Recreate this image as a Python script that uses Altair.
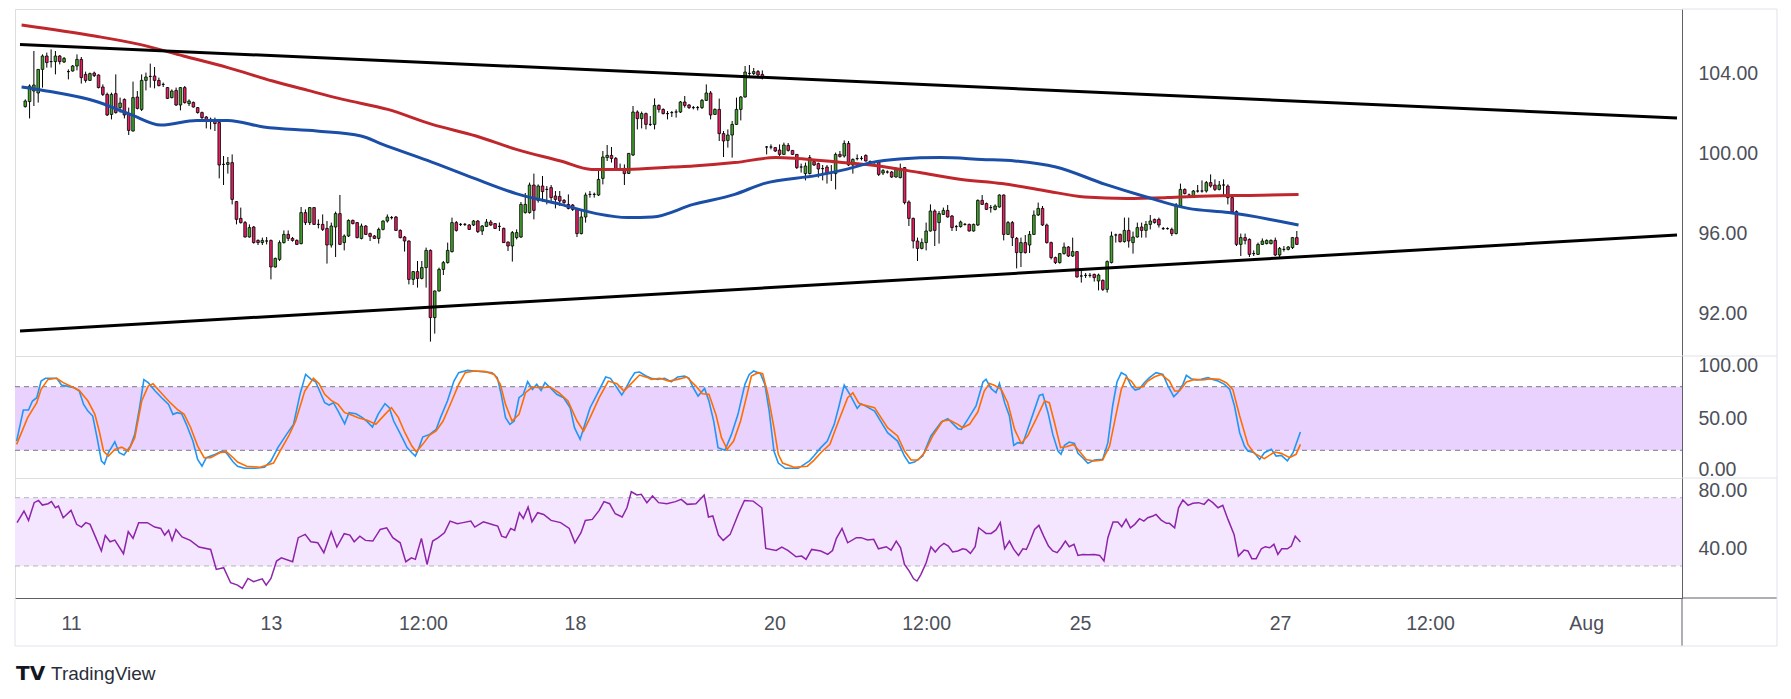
import altair as alt
import pandas as pd

# ---------------- data ----------------
CANDLE_OPEN = [
102.32,102.57,103.1,103.0,104.18,104.85,104.57,104.57,104.85,104.55,
104.07,104.1,104.35,104.68,103.93,103.63,104.0,103.9,103.3,102.93,
101.93,102.97,102.27,102.68,101.97,101.1,102.8,102.18,103.63,103.83,
103.85,103.63,103.43,103.27,102.77,103.13,102.4,103.27,102.47,102.53,
102.27,102.02,101.8,101.68,101.68,101.52,99.43,99.43,99.52,97.57,
96.73,96.52,95.8,96.3,95.63,95.52,95.6,95.63,94.3,94.68,
95.52,95.93,95.73,95.63,95.47,97.02,96.52,97.27,96.43,96.43,
96.23,95.4,96.3,96.97,95.52,95.85,96.63,96.52,95.73,96.35,
95.97,95.85,95.73,96.18,96.6,96.77,96.8,96.13,95.8,95.6,
93.68,94.07,93.73,94.27,95.13,91.77,93.1,94.18,94.52,95.07,
96.52,96.43,96.43,96.4,96.4,96.6,96.1,96.33,96.55,96.47,
96.33,96.23,95.55,95.35,95.77,95.8,97.02,97.02,98.4,97.63,
98.35,98.18,98.27,97.85,97.83,97.63,97.43,97.4,97.18,95.97,
96.8,97.93,97.93,97.9,98.73,99.77,99.88,99.73,99.2,99.23,
98.98,99.9,102.05,101.72,101.97,101.43,101.43,102.38,102.18,101.97,
102.02,102.05,102.05,102.55,102.4,102.27,102.27,102.27,102.63,103.0,
101.93,102.18,100.97,100.63,100.9,101.43,102.18,102.8,103.98,103.97,
104.07,103.93,100.3,100.3,100.27,100.15,99.93,100.38,100.13,99.93,
99.3,98.97,98.97,99.57,99.47,99.22,99.3,99.02,98.97,99.93,
99.85,100.48,99.4,99.72,99.73,99.88,99.57,99.52,99.55,
99.0,99.05,99.05,98.8,98.77,99.27,97.55,96.73,95.6,95.23,
95.52,96.1,97.1,96.52,96.93,97.13,96.85,96.32,96.32,96.43,
96.43,96.1,96.4,97.63,97.47,97.27,97.18,97.3,97.9,95.93,
96.52,95.73,95.02,95.52,95.4,95.93,96.9,97.23,96.4,95.52,
94.77,94.52,94.97,95.3,94.85,95.07,93.85,93.88,93.88,93.93,
93.6,93.63,93.18,94.52,95.9,95.93,95.57,96.13,95.52,95.8,
96.3,96.13,96.43,96.68,96.68,96.22,96.22,96.18,95.97,97.35,
98.18,97.9,97.85,98.1,98.1,98.1,98.52,98.4,98.18,98.4,
98.35,97.77,97.07,95.43,95.77,95.68,94.97,94.93,95.43,95.47,
95.47,95.63,94.9,95.18,95.18,95.27,95.77]
CANDLE_HIGH = [
102.68,103.43,105.1,104.2,104.93,105.02,105.18,105.1,104.9,104.8,
104.18,104.4,104.93,104.8,104.07,104.02,104.07,103.93,103.43,103.02,
103.02,103.93,102.77,102.73,102.27,103.57,103.1,103.93,104.02,104.47,
104.3,103.77,103.52,103.3,103.18,103.27,103.3,103.35,102.68,102.57,
102.3,102.07,101.85,101.77,101.77,101.6,99.85,99.8,99.93,97.6,
97.27,96.6,96.43,96.35,95.68,95.77,95.8,95.67,94.77,95.63,
96.13,96.13,95.8,95.68,97.3,97.18,97.3,97.3,96.68,96.93,
96.6,96.52,97.07,97.9,95.93,96.68,96.67,96.55,96.47,96.4,
96.02,95.9,96.27,96.63,96.93,96.85,96.85,96.18,95.85,95.63,
94.1,94.6,94.6,95.27,95.18,93.13,94.27,94.6,95.52,96.77,
96.6,96.5,96.5,96.45,96.65,96.65,96.4,96.7,96.65,96.5,
96.52,96.27,95.57,96.1,96.18,97.55,98.0,98.52,98.97,98.43,
98.85,98.35,98.4,98.1,98.1,97.7,97.93,97.45,97.22,97.18,
98.02,98.1,98.02,99.1,100.1,100.4,100.3,99.8,99.47,99.43,
100.0,102.35,102.13,102.07,102.02,101.85,102.73,102.43,102.23,102.1,
102.1,102.18,102.6,102.85,102.45,102.35,102.35,102.7,103.43,103.1,
102.23,102.72,101.1,101.18,101.6,102.77,102.85,104.35,104.4,104.25,
104.15,104.13,100.35,100.43,100.3,100.43,100.52,100.5,100.15,99.95,
99.47,99.52,99.9,99.68,99.52,99.4,99.4,99.4,100.02,100.1,
100.63,100.6,99.73,99.93,99.85,99.93,99.63,99.58,99.6,
99.2,99.13,99.1,99.27,99.47,99.3,97.63,96.77,95.77,95.73,
96.52,97.43,97.18,97.1,97.27,97.4,96.9,96.4,96.62,96.5,
96.47,96.47,97.68,97.9,97.52,97.4,97.43,97.93,97.93,96.6,
96.6,95.8,95.77,95.9,96.1,97.13,97.52,97.35,96.47,95.57,
94.82,95.0,95.52,95.35,95.77,95.1,94.1,94.0,94.0,93.97,
93.97,93.68,94.63,96.07,95.97,95.97,96.77,96.77,96.07,96.52,
96.52,96.6,96.9,96.72,96.77,96.3,96.28,96.27,97.5,98.47,
98.23,97.97,98.15,98.4,98.63,98.6,98.93,98.68,98.6,98.68,
98.43,97.85,97.13,95.97,95.97,95.73,95.13,95.52,95.73,95.68,
95.68,95.77,95.3,95.35,95.35,95.8,96.1]
CANDLE_LOW = [
102.27,101.73,102.35,102.52,103.27,104.27,104.27,103.93,104.43,104.5,
103.68,104.07,104.13,103.47,103.52,103.6,103.8,103.23,102.85,101.85,
101.68,101.97,102.02,101.73,100.9,101.07,102.18,102.1,103.13,103.27,
103.23,103.33,103.3,102.7,102.73,102.35,102.13,102.47,102.35,102.27,
101.97,101.6,101.23,101.18,101.1,98.73,98.4,98.97,97.43,96.43,
96.47,95.77,95.77,95.47,95.4,95.4,95.43,93.68,94.27,94.6,
95.47,95.6,95.57,95.4,95.43,96.4,96.4,96.4,96.23,96.1,
94.47,95.27,94.8,95.4,95.13,95.8,96.43,95.73,95.68,95.9,
95.6,95.7,95.47,96.13,96.52,96.68,96.1,95.73,95.07,93.43,
93.4,93.27,93.68,93.27,90.57,90.97,93.07,93.9,94.47,95.02,
96.07,96.35,96.35,96.15,96.35,96.0,95.9,96.3,96.35,96.2,
96.1,95.5,95.1,94.57,95.68,95.75,96.97,96.97,96.68,97.52,
97.57,97.43,97.6,97.23,97.35,97.45,97.18,97.1,95.8,95.93,
96.52,97.77,97.77,97.85,98.43,99.6,99.52,99.1,99.1,98.4,
98.95,99.85,101.18,101.23,101.18,101.35,101.18,102.02,101.93,101.68,
101.8,101.77,102.0,102.27,102.2,102.18,102.13,102.2,102.6,101.68,
101.9,100.6,99.8,100.27,99.77,101.4,101.63,102.77,103.77,103.9,
103.85,103.68,99.93,100.18,100.05,99.85,99.9,100.07,99.9,99.2,
99.02,98.63,98.93,99.35,98.77,98.63,98.47,98.6,98.18,99.77,
99.77,99.35,98.97,99.63,99.63,99.57,99.5,99.47,98.85,
98.9,98.97,98.75,98.77,98.73,97.43,96.35,95.23,94.6,95.18,
95.13,96.07,95.35,95.47,96.9,96.77,96.1,96.1,96.27,96.37,
96.07,96.07,96.35,97.4,97.15,97.02,97.13,97.27,95.63,95.9,
95.35,94.23,94.3,94.97,95.0,95.9,96.85,96.35,95.47,94.68,
94.45,94.47,94.92,94.8,94.8,93.77,93.52,93.75,93.77,93.57,
93.13,93.1,93.02,94.48,95.52,95.52,95.52,95.27,94.97,95.77,
95.77,95.77,96.18,96.47,96.27,96.15,96.17,95.85,95.93,97.3,
97.93,97.83,97.8,98.02,98.02,98.02,98.27,98.1,98.13,97.85,
97.43,97.02,95.35,94.85,95.43,94.8,94.85,94.9,95.4,95.43,
95.43,94.85,94.8,95.07,95.13,95.2,95.4]
CANDLE_CLOSE = [
102.6,103.35,103.4,104.18,104.85,104.52,104.57,104.85,104.57,104.73,
104.07,104.35,104.68,103.77,103.63,103.97,103.87,103.27,102.93,101.9,
102.93,102.02,102.5,101.9,101.13,102.77,102.23,103.63,103.8,103.83,
103.63,103.37,103.43,102.73,103.1,102.4,103.27,102.52,102.6,102.3,
102.02,101.77,101.6,101.68,101.47,99.4,99.43,99.52,97.68,96.68,
96.52,95.8,96.27,95.52,95.52,95.63,95.6,94.3,94.73,95.52,
95.93,95.73,95.63,95.43,97.02,96.52,97.27,96.43,96.43,96.18,
95.4,96.35,96.97,95.43,95.85,96.63,96.47,95.77,96.35,95.93,
95.83,95.73,96.18,96.6,96.8,96.77,96.13,95.77,95.6,93.68,
94.07,93.73,94.27,95.13,91.77,93.1,94.18,94.52,95.13,96.52,
96.13,96.43,96.43,96.18,96.6,96.07,96.35,96.55,96.4,96.23,
96.33,95.52,95.35,96.02,96.02,97.43,97.43,98.4,97.13,98.35,
98.07,98.18,97.77,97.68,97.6,97.52,97.23,97.18,95.97,96.8,
97.9,97.93,97.93,98.68,99.8,99.88,99.73,99.15,99.2,98.97,
99.98,102.05,101.72,101.97,101.43,101.43,102.38,102.18,101.97,101.97,
102.02,102.05,102.55,102.38,102.27,102.27,102.27,102.63,103.0,101.9,
102.18,100.97,100.6,100.9,101.43,102.18,102.8,104.05,103.98,104.07,
103.9,103.77,100.3,100.3,100.1,99.93,100.4,100.13,99.93,99.27,
99.3,99.35,99.77,99.4,99.2,99.22,98.97,99.02,99.93,99.83,
100.48,99.4,99.68,99.72,99.73,99.6,99.57,99.52,98.93,
99.12,99.05,98.8,99.23,99.23,97.52,96.73,95.6,95.23,95.52,
96.1,97.1,96.13,96.97,97.13,96.8,96.27,96.32,96.55,96.43,
96.1,96.43,97.63,97.43,97.18,97.27,97.35,97.9,95.93,96.52,
95.77,95.02,95.52,95.02,95.93,96.9,97.23,96.4,95.52,94.77,
94.52,94.97,95.3,94.85,95.07,93.8,93.85,93.88,93.88,93.77,
93.9,93.18,94.57,95.85,95.9,95.57,96.13,95.6,95.8,96.27,
96.13,96.43,96.6,96.52,96.4,96.22,96.22,95.97,97.4,98.18,
97.97,97.9,98.1,98.1,98.1,98.52,98.35,98.18,98.4,98.4,
97.77,97.07,95.43,95.77,95.63,94.93,94.97,95.43,95.6,95.63,
95.63,94.9,95.23,95.18,95.3,95.77,95.43]

MA_RED_BAR = [-0.85,16.1,26.5,36.7,47.0,57.4,65.6,73.7,84.1,94.4,104.6,113.9,124.2,131.4,139.7,
              150.0,155.0,164.6,174.1,178.9,188.5,198.0,207.5,217.2,226.6,236.3,245.8,255.5,264.9,274.6,284.1,295.4]
MA_RED_VAL = [106.4,105.85,105.43,104.85,104.27,103.6,103.13,102.68,102.18,101.43,100.85,100.18,99.6,99.18,99.18,
              99.3,99.35,99.52,99.77,99.73,99.55,99.35,99.02,98.68,98.47,98.13,97.8,97.73,97.77,97.85,97.88,97.93]
MA_BLUE_BAR = [-0.85,5.8,16.1,24.4,31.5,39.8,47.0,55.3,67.6,77.9,82.9,93.3,103.7,113.9,124.2,132.5,139.7,145.5,
               155.0,164.6,171.3,183.7,190.4,196.2,202.8,212.3,221.9,229.6,239.1,250.6,260.1,269.8,279.2,288.8,295.4]
MA_BLUE_VAL = [103.3,103.07,102.6,101.93,101.4,101.63,101.63,101.3,101.1,100.85,100.43,99.63,98.77,97.97,97.43,96.97,96.77,96.8,
               97.43,97.93,98.47,98.88,99.18,99.52,99.7,99.77,99.68,99.6,99.3,98.43,97.8,97.23,97.02,96.68,96.4]

TREND_UPPER_BAR = [-1.22, 383.2]
TREND_UPPER_VAL = [105.43, 101.75]
TREND_LOWER_BAR = [-1.22, 383.2]
TREND_LOWER_VAL = [91.1, 95.9]

STOCH_K_BAR = [-0.85,0.7,1.9,2.8,3.8,4.8,5.8,8.4,9.5,11.0,12.5,13.6,14.6,15.6,16.7,17.7,18.7,19.4,20.3,21.8,
22.8,23.9,25.4,26.4,27.5,28.5,29.5,31.1,32.6,34.2,35.2,36.2,37.2,38.3,39.8,40.9,41.9,42.9,45.0,46.5,
47.5,49.1,50.1,51.7,54.2,56.3,57.8,59.4,61.4,63.0,64.5,65.8,67.1,68.1,69.2,70.2,71.2,72.2,73.3,74.8,
75.8,77.4,78.9,80.0,81.2,82.5,84.1,85.1,86.1,87.7,89.2,90.3,91.1,91.8,92.8,94.4,95.9,96.9,98.5,100.0,
101.1,103.1,104.7,106.7,108.8,110.0,110.9,111.9,112.9,113.9,115.0,116.0,117.0,118.1,119.1,120.1,121.0,122.2,123.7,125.3,
126.8,127.8,129.1,130.2,131.4,133.0,135.0,136.1,137.6,138.7,139.7,140.7,141.7,142.8,144.3,
145.5,147.0,148.6,150.1,151.6,153.2,154.2,155.2,156.3,157.8,158.8,159.9,160.9,162.5,164.0,165.5,167.1,168.1,169.1,170.7,
171.7,172.7,173.8,174.8,176.4,179.4,182.0,183.0,184.6,186.1,187.7,188.7,190.0,191.3,193.0,
193.9,197.0,200.0,202.3,203.9,205.0,206.2,208.1,210.0,212.4,213.9,216.2,217.0,218.5,220.4,222.0,222.7,223.9,225.0,225.8,
227.0,228.1,229.1,230.0,231.2,232.3,233.9,235.0,235.8,237.0,238.1,239.3,240.0,240.8,241.9,243.1,243.9,245.0,246.2,247.7,
249.6,250.8,251.9,252.9,253.9,255.0,256.2,257.1,258.1,259.2,260.4,261.9,263.5,264.6,266.0,266.9,268.1,268.9,270.0,271.2,
272.3,273.9,275.0,276.2,277.7,278.9,280.0,281.2,282.3,283.1,284.6,285.8,286.9,288.5,289.6,290.8,292.2,293.5,295.2]
STOCH_K_VAL = [28.7,58,58,66.5,69.6,85.3,87.9,87.9,81.6,80.3,79,75.9,63.3,57,52.3,31.9,10,7,17.7,28,
17.7,15.5,24,35,60.2,86.6,83.8,75.9,69.6,63.3,53.9,55.5,54.5,44.5,28.7,11.4,5,13,16.2,19.3,
17.7,9,5,3,3,4,10,22.5,35,44.5,72.8,91.6,86.9,84.7,74.3,64.9,62.7,64.9,57,45.1,
55.5,54.5,50.8,47,42,53.9,64,60.2,47.6,35,22.5,17.7,14.6,20.9,32.5,35,39.7,50.8,66.5,85.3,
93.2,95.4,94.8,94.2,93.2,88.5,72.8,50.8,44.5,47.6,69.6,72.8,84.7,77.5,82.2,76.5,83.8,79,72.8,69.6,
60.2,41.3,30.3,44.5,60.2,72.8,89.1,87.9,79,72.1,79,86.9,93.2,93.8,90.1,
87.9,86.9,87.9,84.7,89.1,90.1,87.9,79,71.2,78.4,66.5,47.6,22.5,20,35,53.9,82.2,91.6,94.8,92.3,
82.2,57,19.3,8,3,3,10,14.6,22.5,28.7,44.5,60.2,81.6,72.8,59.6,
64,57,36.6,28.7,14.6,7.7,8.9,14.6,33.5,46.7,49.8,40.4,39.7,49.2,61.8,84.4,87,78.1,74.3,83.1,
64.9,52.3,24.7,27.2,26.5,39.7,58.6,71.8,72.8,55.5,35,19.3,16.2,24.7,27.8,26.5,17.1,13,7.7,10.8,
11.4,27.2,61.8,84.4,93.2,90.7,80.6,76.9,78.1,83.8,88.5,93.2,91.6,81.3,70.6,74.3,82.2,90.7,87.5,86.3,
86.9,88.5,86.9,85.3,82.2,77.5,61.8,36.6,24,19.3,17.7,11.4,17.7,20.9,14.6,15.2,10,17.7,37.2]

STOCH_D_BAR = [-0.85,1.7,3.8,4.8,6.4,8.4,9.9,12.0,13.6,15.6,17.2,18.2,19.2,20.3,21.8,23.4,24.9,26.4,28.0,29.5,
30.6,32.1,34.2,36.2,37.8,39.3,40.9,42.4,43.9,46.0,47.5,49.1,50.1,52.2,55.3,58.4,59.9,61.9,63.5,65.6,
67.6,68.9,70.2,71.7,73.3,74.8,76.4,77.9,80.0,82.0,84.1,85.6,87.2,88.7,90.3,91.3,92.8,94.4,95.9,97.5,
99.5,101.1,102.6,104.7,107.3,109.3,110.7,111.9,113.4,115.0,116.5,118.1,120.1,122.2,124.2,126.3,128.4,129.9,131.4,133.5,
135.6,137.6,139.2,140.7,142.8,144.8,
145.5,147.5,149.6,151.6,153.7,155.8,157.3,158.8,160.4,161.7,163.0,164.5,166.1,167.6,168.6,170.2,171.2,172.4,173.8,174.8,
175.8,178.4,181.5,183.0,184.6,186.7,188.7,190.8,192.0,193.3,
193.9,197.0,200.0,202.3,203.9,205.4,207.0,208.5,210.4,212.7,214.3,216.2,217.3,218.9,220.8,222.3,223.5,224.6,226.2,227.7,
229.3,230.8,232.3,234.3,236.2,237.3,238.5,239.9,241.2,242.9,244.2,245.8,247.7,249.6,251.2,252.7,253.9,255.0,256.2,257.3,
258.9,260.0,261.6,263.1,265.0,266.2,267.3,268.9,270.8,272.7,274.6,276.5,278.1,279.6,281.2,283.1,284.6,286.9,289.2,290.8,
292.7,294.2,295.2]
STOCH_D_VAL = [25.6,50.8,64.9,77.5,86.9,87.9,83.8,79.7,76.5,66.5,53.9,38.2,19.3,14.6,20.9,23,19.3,31.9,66.5,80.6,
82.8,75.9,66.5,58.6,53.9,41.3,24,13,13,17.7,18.7,13,9,5,4,8,19.3,33.5,47.6,75.9,
87.9,82.8,72.8,67.1,63.3,55.5,53.3,50.8,48.3,44.5,53.9,60.2,50.8,36.6,24,18.7,25.6,34.4,38.2,47.6,
66.5,82.2,93.2,94.8,94.2,91.6,82.2,63.3,47.6,53.9,74.3,79.7,79,79.7,74.3,66.5,47.6,38.2,50.8,69.6,
85.3,82.8,75.9,82.2,91,88.5,
86.9,87.9,85.3,86.9,89.1,80.6,73.4,72.8,53.9,31.9,20.9,28.7,47.6,72.8,90.1,93.2,92.3,72.8,41.3,16.2,
8,4,5,10.5,17.7,25.6,47.6,69.6,74.3,64.9,
63.3,60.2,41.3,33.5,19.3,10.8,10.8,17.7,33.5,47.6,48.6,44.5,41.3,44.5,56.1,75.9,83.1,81.3,77.5,64.9,
39.7,26.5,33.5,49.8,66.5,64.9,46,22.5,23.4,25.6,19.3,11.4,9.9,10.8,24,53.9,77.5,88.5,85.3,79,
80,85.3,89.4,91.6,85.3,75.9,75.9,84.4,86.9,86.3,87.5,86.9,83.8,77.5,52.3,25.6,17.1,12.1,18.4,17.1,
13,16.2,25.6]

RSI_BAR = [-0.74,0.85,1.9,3.2,4.2,5.1,6.4,7.2,8.1,8.8,9.9,11.7,13.0,14.1,15.1,16.1,17.4,18.7,19.6,20.7,
21.8,23.8,24.9,26.0,27.3,29.3,31.0,32.4,33.3,34.2,35.0,35.9,37.3,39.2,41.2,43.9,45.2,46.9,48.5,50.1,
51.2,52.5,53.8,55.8,56.7,57.8,59.1,60.2,62.8,64.1,65.7,67.0,68.6,70.0,71.7,73.0,74.7,76.0,77.0,78.3,
79.6,81.3,83.0,84.5,85.9,87.6,88.9,90.2,91.1,92.5,93.8,95.1,96.4,97.8,99.1,100.8,102.1,103.9,104.8,106.8,
109.2,110.1,111.0,112.0,113.1,114.0,115.1,116.0,117.1,118.0,119.3,120.7,122.4,124.6,126.6,127.9,129.3,130.3,131.9,133.5,
134.6,135.9,137.2,138.8,139.9,140.9,142.2,143.2,144.5,145.8,147.2,149.1,151.1,152.4,153.8,155.8,157.7,158.7,159.7,161.0,
162.1,163.7,165.7,167.0,169.0,171.0,171.9,174.3,175.6,177.0,178.9,180.2,181.2,182.5,184.6,186.2,187.3,188.2,189.5,190.8,
192.8,
193.9,195.4,196.8,197.9,199.7,200.8,202.0,203.0,203.9,205.0,206.0,206.8,207.7,208.9,210.0,211.0,212.0,213.0,214.0,215.0,
216.2,217.3,218.1,219.1,220.2,221.0,221.7,222.7,223.9,225.0,226.0,227.0,228.1,229.1,230.2,231.2,232.0,232.7,233.9,234.9,
236.0,237.1,238.1,239.1,240.0,241.0,241.9,243.0,243.9,245.0,246.2,247.7,248.9,249.9,250.8,252.0,253.1,254.0,255.0,256.0,
257.0,258.1,259.1,260.0,261.2,261.9,263.1,264.3,265.0,266.2,267.1,268.1,269.3,270.4,271.7,273.0,274.0,275.0,276.2,277.3,
278.5,279.9,280.9,282.2,283.1,284.0,285.0,286.2,287.1,288.1,289.1,290.0,290.9,292.2,293.1,294.0,295.2]
RSI_VAL = [55.4,62.2,56.7,67.1,68.4,65.7,66.5,67.7,64.1,65.1,58.3,62.6,54.4,52.8,55.4,54.4,46.6,38.8,47.9,44.2,
45.2,37.2,50.1,46.2,55.4,55.4,52.8,52,48.1,50.9,45,51.4,47,45,41.1,39.7,28,29,20.2,18.8,
16.9,22.7,20.8,22.5,18.8,22.7,32.9,34.8,32.5,46.6,48.5,44.2,43.6,37.8,50.1,41.1,48.9,48.1,44.2,47.5,
45,44.6,51.4,52.4,46.6,43.6,32.5,34.8,33.9,46.2,30.9,44.6,46.6,49.5,56.3,54.8,55.4,56.3,52.8,55.9,
54,53.4,47.5,46.6,52,50.9,61.2,57.9,64.5,55.9,61.2,60.2,56.7,55.4,52,43.6,49.5,56.7,57.3,62.6,
67.7,66.5,60.6,58.7,64.1,73.5,71.6,72,67.1,71,67.1,66.5,67.7,69,66.1,66.5,71.6,58.7,59.3,48.1,
45,48.5,61.2,68.4,68,64.1,40.3,39.1,41.1,39.1,35.4,35.8,33.9,39.7,38.8,36.8,39.1,46.2,52,43.6,
46.6,
46.6,45.2,45.6,40.1,41.3,39.3,44.6,40.7,30.9,27,22.5,21.2,25.1,31.9,41.3,38.2,41.3,43.2,41.7,38.2,
38.8,40.1,39.7,37.4,41.3,52.4,51.1,49.1,49.1,51.1,55.4,40.1,44.6,39.7,36.2,40.1,39.7,43.6,51.4,53.8,
47.5,41.7,38.8,37.8,40.7,44.6,41.3,42.7,36.2,36.8,36.6,36.8,36.2,32.9,46.6,55.7,55.7,53,57.3,52.4,
54.4,57.7,56.3,58.3,59.3,60.2,56.9,55,55,52.4,64.1,68.6,65.5,66.7,67.1,66.1,69,67.1,64.1,65.5,
57.3,48.5,35.8,39.3,38.8,34.3,34.3,40.1,41.3,40.7,42.7,36.8,40.1,40.1,41.7,47.5,44]

PRICE_TICKS = [92, 96, 100, 104]
STOCH_TICKS = [0, 50, 100]
RSI_TICKS = [40, 80]
STOCH_LEVELS = [20, 80]
RSI_LEVELS = [30, 70]
TIME_TICK_BAR = [11.7, 57.8, 92.85, 127.9, 173.9, 208.9, 244.4, 290.5, 325.1, 361.1]
TIME_TICK_LABEL = ['11', '13', '12:00', '18', '20', '12:00', '25', '27', '12:00', 'Aug']
LOGO_MARK = ['TV']
LOGO_TEXT = ['TradingView']

# ---------------- layout / style ----------------
W = 1667
H_MAIN, H_STO, H_RSI = 347, 122, 120
AXW = 95          # price-axis strip width
TAXH = 48         # time-axis strip height
XDOM = [-1.22, 383.2]
DARK = '#5d606b'
FRAME = '#e0e3eb'
LBL = '#4c4f59'
FONT = 'Liberation Sans'
FS = 19.5
GREEN = '#43a52a'
PINK = '#e91e63'

XS = alt.Scale(domain=XDOM, nice=False, zero=False)
YM = alt.Scale(domain=[89.85, 107.2], nice=False, zero=False)
YS = alt.Scale(domain=[-6.13, 108.96], nice=False, zero=False)
YR = alt.Scale(domain=[11.26, 81.54], nice=False, zero=False)


def yaxis(vals, baseline='middle', offset=0):
    return alt.Axis(orient='right', values=vals, format='.2f', title=None, grid=False,
                    ticks=False, labelPadding=16, domainColor=DARK, domainWidth=1,
                    labelColor=LBL, labelFontSize=FS, labelFont=FONT, labelBaseline=baseline,
                    labelOffset=offset,
                    labelOverlap=False, labelBound=False, labelFlush=False)


AX_M = yaxis(PRICE_TICKS)
# labels sitting on the pane edges are nudged so they do not collide
AX_S = yaxis(STOCH_TICKS, 'middle',
             {'condition': {'test': 'datum.value <= 0', 'value': -2}, 'value': 0})
AX_R = yaxis(RSI_TICKS,
             {'condition': {'test': 'datum.value >= 80', 'value': 'top'}, 'value': 'middle'},
             {'condition': {'test': 'datum.value >= 80', 'value': 1}, 'value': 0})

mids = [(TIME_TICK_BAR[i] + TIME_TICK_BAR[i + 1]) / 2 for i in range(len(TIME_TICK_BAR) - 1)]
expr = ''
for m, lab in zip(mids, TIME_TICK_LABEL[:-1]):
    expr += f"datum.value < {m:.2f} ? '{lab}' : "
expr += f"'{TIME_TICK_LABEL[-1]}'"
XAX = alt.Axis(orient='bottom', values=TIME_TICK_BAR, labelExpr=expr, title=None, grid=False,
               ticks=False, domainColor=DARK, domainWidth=1, labelColor=LBL, labelFontSize=FS,
               labelFont=FONT, labelPadding=16, labelFlush=False, labelOverlap=False, labelBound=False)

one = pd.DataFrame({'k': [0]})


def hrule(y, x1, x2, color):
    return alt.Chart(one).mark_rule(color=color, strokeWidth=1).encode(
        x=alt.value(x1), x2=alt.value(x2), y=alt.value(y))


def vrule(x, y1, y2, color):
    return alt.Chart(one).mark_rule(color=color, strokeWidth=1).encode(
        x=alt.value(x), y=alt.value(y1), y2=alt.value(y2))


# ---------------- main price pane ----------------
cdf = pd.DataFrame({'bar': list(range(len(CANDLE_OPEN))), 'open': CANDLE_OPEN, 'high': CANDLE_HIGH,
                    'low': CANDLE_LOW, 'close': CANDLE_CLOSE})
cdf['dir'] = ['up' if c >= o else 'down' for o, c in zip(cdf['open'], cdf['close'])]

xq = alt.X('bar:Q', scale=XS, axis=None)

wicks = alt.Chart(cdf).mark_rule(color='#000000', strokeWidth=1).encode(
    x=xq, y=alt.Y('low:Q', scale=YM, axis=AX_M), y2='high:Q')
bodies = alt.Chart(cdf).mark_bar(size=2.6, stroke='#000000', strokeWidth=0.8).encode(
    x=xq, y=alt.Y('open:Q', scale=YM, axis=AX_M), y2='close:Q',
    fill=alt.Fill('dir:N', scale=alt.Scale(domain=['up', 'down'], range=[GREEN, PINK]), legend=None))


def line(bars, vals, color, width, scale, axis, interp='monotone'):
    df = pd.DataFrame({'bar': bars, 'val': vals})
    return alt.Chart(df).mark_line(color=color, strokeWidth=width, interpolate=interp, clip=True).encode(
        x=xq, y=alt.Y('val:Q', scale=scale, axis=axis))


ma_red = line(MA_RED_BAR, MA_RED_VAL, '#c0272d', 3, YM, AX_M)
ma_blue = line(MA_BLUE_BAR, MA_BLUE_VAL, '#1b4ea6', 3, YM, AX_M)
tr_up = line(TREND_UPPER_BAR, TREND_UPPER_VAL, '#000000', 3, YM, AX_M, 'linear')
tr_lo = line(TREND_LOWER_BAR, TREND_LOWER_VAL, '#000000', 3, YM, AX_M, 'linear')

main = alt.layer(
    wicks, bodies, ma_red, ma_blue, tr_up, tr_lo,
    hrule(0, W, W + AXW, FRAME), hrule(H_MAIN, W, W + AXW, FRAME), vrule(W + AXW, 0, H_MAIN, FRAME),
).properties(width=W, height=H_MAIN)

# ---------------- stochastic pane ----------------
band_s = alt.Chart(pd.DataFrame({'lo': [STOCH_LEVELS[0]], 'hi': [STOCH_LEVELS[1]]})).mark_rect(
    color='#e9d2fd').encode(x=alt.value(0), x2=alt.value(W),
                            y=alt.Y('hi:Q', scale=YS, axis=AX_S), y2='lo:Q')
lv_s = alt.Chart(pd.DataFrame({'lvl': STOCH_LEVELS})).mark_rule(
    color='#787b86', strokeDash=[5, 4], strokeWidth=1).encode(
    x=alt.value(0), x2=alt.value(W), y=alt.Y('lvl:Q', scale=YS, axis=AX_S))
k_line = line(STOCH_K_BAR, STOCH_K_VAL, '#2196f3', 1.6, YS, AX_S, 'linear')
d_line = line(STOCH_D_BAR, STOCH_D_VAL, '#ff6d00', 1.6, YS, AX_S, 'linear')

stoch = alt.layer(
    band_s, lv_s, k_line, d_line,
    hrule(H_STO, W, W + AXW, FRAME), vrule(W + AXW, 0, H_STO, FRAME),
).properties(width=W, height=H_STO)

# ---------------- RSI pane ----------------
band_r = alt.Chart(pd.DataFrame({'lo': [RSI_LEVELS[0]], 'hi': [RSI_LEVELS[1]]})).mark_rect(
    color='#f3e6fe').encode(x=alt.value(0), x2=alt.value(W),
                            y=alt.Y('hi:Q', scale=YR, axis=AX_R), y2='lo:Q')
lv_r = alt.Chart(pd.DataFrame({'lvl': RSI_LEVELS})).mark_rule(
    color='#b2b5be', strokeDash=[5, 4], strokeWidth=1).encode(
    x=alt.value(0), x2=alt.value(W), y=alt.Y('lvl:Q', scale=YR, axis=AX_R))
rsi_df = pd.DataFrame({'bar': RSI_BAR, 'val': RSI_VAL})
rsi_line = alt.Chart(rsi_df).mark_line(color='#8e24aa', strokeWidth=1.5, clip=True).encode(
    x=alt.X('bar:Q', scale=XS, axis=XAX), y=alt.Y('val:Q', scale=YR, axis=AX_R))

logo_mark = alt.Chart(pd.DataFrame({'t': LOGO_MARK})).mark_text(
    align='left', baseline='alphabetic', font='DejaVu Sans', fontWeight='bold', fontSize=20,
    color='#131722').encode(text='t:N', x=alt.value(1), y=alt.value(H_RSI + 82))
logo_text = alt.Chart(pd.DataFrame({'t': LOGO_TEXT})).mark_text(
    align='left', baseline='alphabetic', font='Liberation Sans', fontSize=19,
    color='#2a2e39').encode(text='t:N', x=alt.value(36), y=alt.value(H_RSI + 82))

rsi = alt.layer(
    band_r, lv_r, rsi_line,
    hrule(H_RSI, W, W + AXW, DARK), vrule(W, H_RSI, H_RSI + TAXH, DARK),
    vrule(W + AXW, 0, H_RSI + TAXH, FRAME), vrule(0, H_RSI, H_RSI + TAXH, FRAME),
    hrule(H_RSI + TAXH, 0, W + AXW, FRAME),
    logo_mark, logo_text,
).properties(width=W, height=H_RSI)

chart = alt.vconcat(main, stoch, rsi, spacing=0, bounds='flush').properties(
    padding={'left': 6, 'top': 0, 'right': 5, 'bottom': 5}
).configure_view(stroke=FRAME, strokeWidth=1).configure(background='#ffffff')

chart.save('out.html', embed_options={'renderer': 'svg', 'actions': False})
